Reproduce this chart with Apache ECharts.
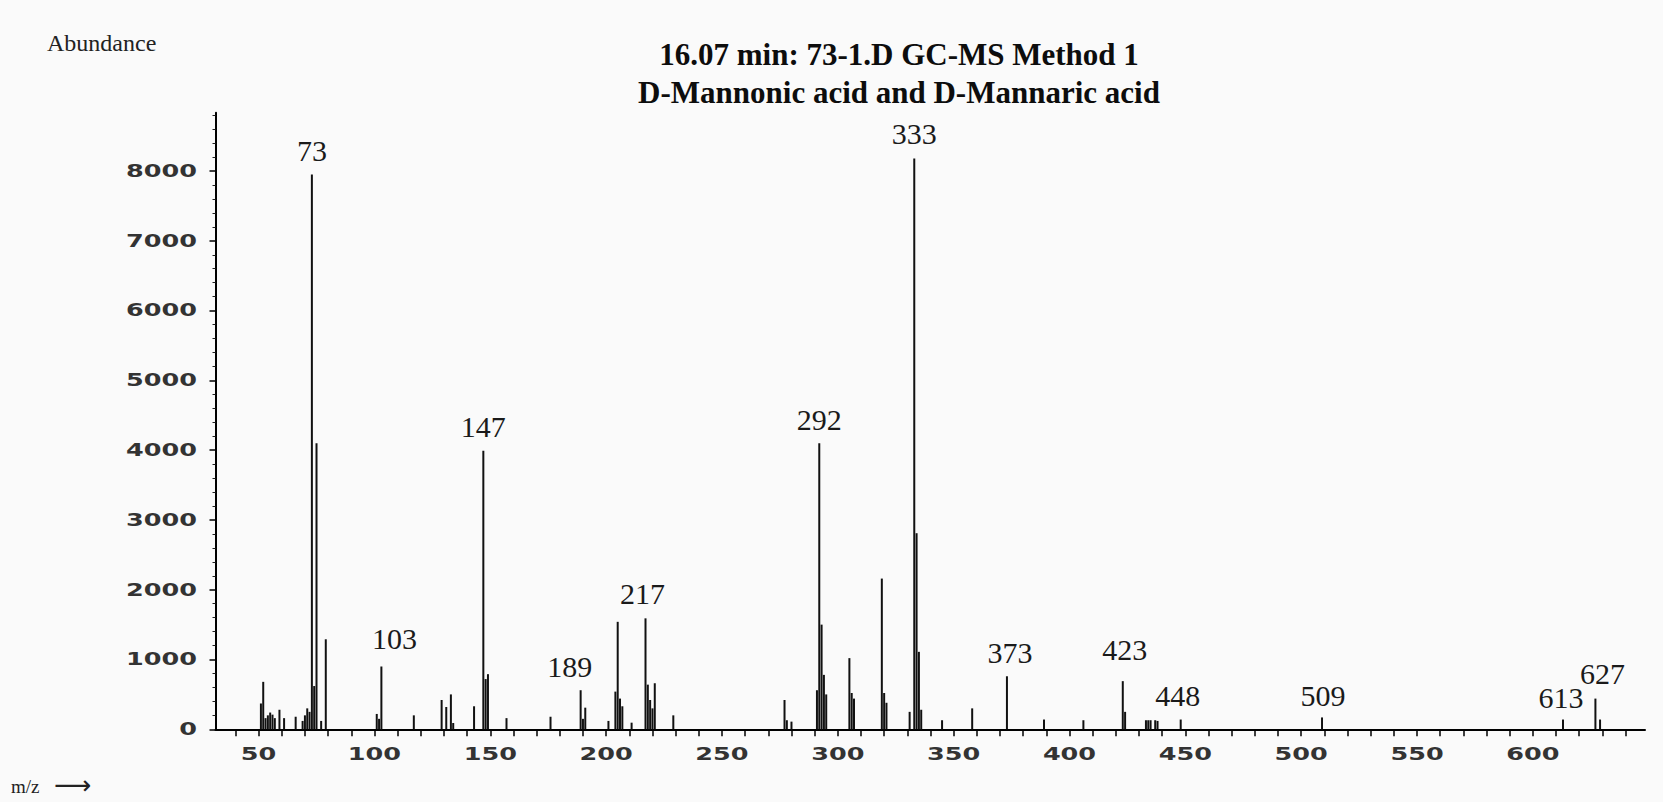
<!DOCTYPE html>
<html>
<head>
<meta charset="utf-8">
<title>Mass spectrum at 16.07 min</title>
<script src="https://cdn.jsdelivr.net/npm/echarts@6/dist/echarts.min.js"></script>
<style>
  html, body { margin: 0; padding: 0; background: #fafafa; }
  #chart { width: 1663px; height: 802px; }
</style>
</head>
<body>
<div id="chart"></div>
<script>
// m/z of each ion and its abundance (counts)
const massToCharge = [
  51, 52, 53, 54, 55, 56, 57, 59, 61, 66, 69, 70, 71, 72, 73, 74, 75, 77, 79,
  101, 102, 103, 117, 129, 131, 133, 134, 143, 147, 148, 149, 157, 176,
  189, 190, 191, 201, 204, 205, 206, 207, 211, 217, 218, 219, 220, 221, 229,
  277, 278, 280, 291, 292, 293, 294, 295, 305, 306, 307, 319, 320, 321,
  331, 333, 334, 335, 336, 345, 358, 373, 389, 406, 423, 424,
  433, 434, 435, 437, 438, 448, 509, 613, 627, 629
];
const abundance = [
  370, 680, 160, 200, 240, 210, 160, 280, 160, 180, 120, 200, 300, 250, 7950, 620, 4100, 120, 1290,
  220, 150, 900, 200, 420, 320, 500, 90, 330, 3990, 720, 790, 160, 180,
  560, 150, 310, 120, 540, 1540, 440, 330, 95, 1590, 640, 420, 300, 660, 200,
  420, 130, 110, 560, 4100, 1500, 780, 500, 1020, 520, 440, 2160, 520, 380,
  250, 8180, 2810, 1110, 280, 130, 300, 760, 140, 130, 690, 250,
  130, 130, 130, 130, 120, 140, 170, 140, 440, 140
];
// ions annotated with their m/z
const labeledMasses = [73, 103, 147, 189, 217, 292, 333, 373, 423, 448, 509, 613, 627];
// axis tick labels
const xTickLabels = [50, 100, 150, 200, 250, 300, 350, 400, 450, 500, 550, 600];
const yTickLabels = [0, 1000, 2000, 3000, 4000, 5000, 6000, 7000, 8000];

const titleLines = ['16.07 min: 73-1.D GC-MS Method 1', 'D-Mannonic acid and D-Mannaric acid'];

// axis extents
const X_MIN = 31.4, X_MAX = 648.4;
const Y_MIN = 0, Y_MAX = 8836;

// small nudges for annotation placement [dx, dy]
const labelNudge = {
  73: [0, 0], 103: [13, -4], 147: [0, 0], 189: [-11, 0], 217: [-3, -1],
  292: [0, 0], 333: [0, -1], 373: [3, 0], 423: [2, -8], 448: [-3, 0],
  509: [1, 2], 613: [-2, 2], 627: [7, -1]
};

const xMinorTicks = [];
for (let v = 40; v <= 640; v += 10) xMinorTicks.push(v);
const yMinorTicks = [];
for (let v = 200; v <= 8800; v += 200) if (v % 1000 !== 0) yMinorTicks.push(v);

const serif = '"Liberation Serif", "Times New Roman", "DejaVu Serif", serif';

const barData = massToCharge.map((m, i) => {
  const item = { value: [m, abundance[i]] };
  if (labeledMasses.includes(m)) {
    const nudge = labelNudge[m] || [0, 0];
    item.label = {
      show: true,
      position: 'top',
      distance: 9,
      offset: nudge,
      formatter: String(m),
      fontFamily: serif,
      fontSize: 30,
      color: '#1a1a1a'
    };
  }
  return item;
});

const chart = echarts.init(document.getElementById('chart'), null, { renderer: 'svg' });

const option = {
  backgroundColor: '#fafafa',
  animation: false,
  title: [
    {
      text: titleLines.join('\n'),
      left: 894,
      top: 30,
      textAlign: 'center',
      textStyle: {
        fontFamily: serif,
        fontWeight: 'bold',
        fontSize: 31,
        lineHeight: 38,
        color: '#0d0d0d'
      }
    },
    {
      text: 'Abundance',
      left: 42,
      top: 26,
      textStyle: { fontFamily: serif, fontWeight: 'normal', fontSize: 24, color: '#222' }
    }
  ],
  grid: { left: 215.5, right: 18, top: 112.7, bottom: 72.7, containLabel: false },
  xAxis: {
    type: 'value',
    min: X_MIN,
    max: X_MAX,
    axisLine: { show: true, onZero: false, lineStyle: { color: '#000', width: 2 } },
    axisTick: { show: true, customValues: xMinorTicks, length: 7, lineStyle: { color: '#000', width: 1.5 } },
    axisLabel: { show: false },
    splitLine: { show: false }
  },
  yAxis: [
    {
      type: 'value',
      min: Y_MIN,
      max: Y_MAX,
      axisLine: { show: true, lineStyle: { color: '#000', width: 2 } },
      axisTick: { show: true, customValues: yTickLabels, length: 6, lineStyle: { color: '#000', width: 1.5 } },
      axisLabel: { show: false },
      splitLine: { show: false }
    },
    {
      type: 'value',
      min: Y_MIN,
      max: Y_MAX,
      position: 'left',
      offset: 0,
      axisLine: { show: false },
      axisTick: { show: true, customValues: yMinorTicks, length: 3, lineStyle: { color: '#222', width: 1 } },
      axisLabel: { show: false },
      splitLine: { show: false }
    }
  ],
  series: [
    {
      type: 'bar',
      name: 'Abundance',
      xAxisIndex: 0,
      yAxisIndex: 0,
      barWidth: 2,
      itemStyle: { color: '#111' },
      data: barData
    }
  ]
};

chart.setOption(option);

// Tick labels in a wide sans face, placed through the axis scales
const wide = 1.5;
const tickFont = 'bold 17px "DejaVu Sans", Verdana, sans-serif';
const graphics = [];
yTickLabels.forEach(v => {
  const py = chart.convertToPixel({ yAxisIndex: 0 }, v);
  graphics.push({
    type: 'text',
    x: 197,
    y: py,
    scaleX: wide,
    originX: 0,
    originY: 0,
    silent: true,
    style: { text: String(v), font: tickFont, fill: '#333', textAlign: 'right', textVerticalAlign: 'middle' }
  });
});
xTickLabels.forEach(v => {
  const px = chart.convertToPixel({ xAxisIndex: 0 }, v);
  graphics.push({
    type: 'text',
    x: px,
    y: 754,
    scaleX: wide,
    originX: 0,
    originY: 0,
    silent: true,
    style: { text: String(v), font: tickFont, fill: '#333', textAlign: 'center', textVerticalAlign: 'middle' }
  });
});
// x axis caption
graphics.push({
  type: 'text',
  x: 11,
  y: 786,
  silent: true,
  style: { text: 'm/z', font: '19px ' + serif, fill: '#222', textAlign: 'left', textVerticalAlign: 'middle' }
});
graphics.push({
  type: 'text',
  x: 54,
  y: 785,
  silent: true,
  style: { text: '\u27F6', font: '26px "DejaVu Sans", sans-serif', fill: '#222', textAlign: 'left', textVerticalAlign: 'middle' }
});

chart.setOption({ graphic: graphics });
</script>
</body>
</html>
